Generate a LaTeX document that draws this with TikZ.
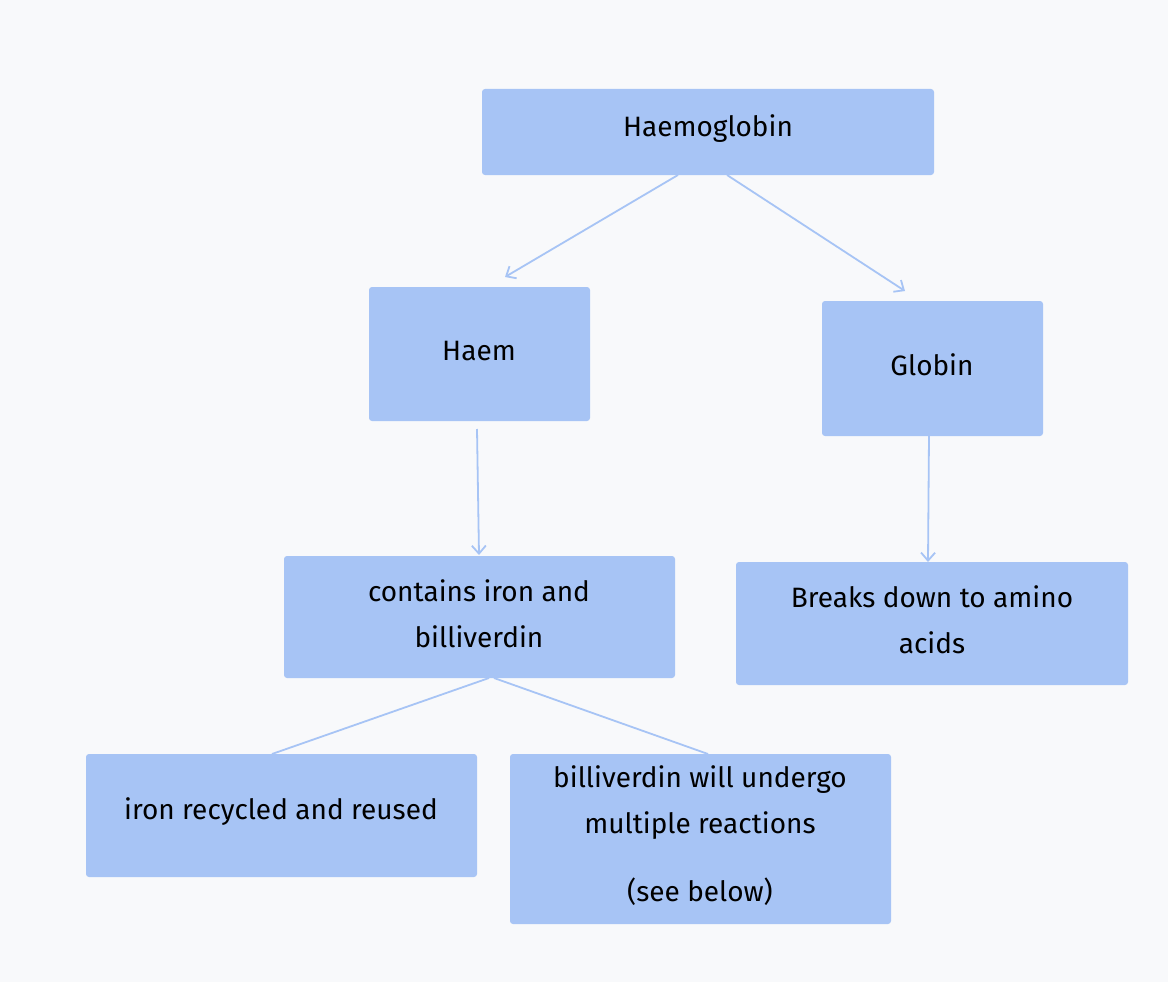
\documentclass[tikz,border=0pt]{standalone}
\usepackage{fontspec}
\setmainfont{Fira Sans}
\usetikzlibrary{arrows.meta}
\begin{document}
\begin{tikzpicture}[x=1pt,y=-1pt,
 txt/.style={align=center,font=\fontsize{28}{46}\selectfont},
 arr/.style={draw=linec,line width=1.8pt,-{Straight Barb[length=8pt,width=14pt]}},
 ln/.style={draw=linec,line width=1.8pt},
 bx/.style={fill=boxc,rounded corners=3pt}]
\definecolor{boxc}{HTML}{A7C4F5}
\definecolor{linec}{HTML}{A7C4F5}
\definecolor{bg}{HTML}{F8F9FB}
\fill[bg] (0,0) rectangle (1168,982);
\useasboundingbox (0,0) rectangle (1168,982);
\fill[bx] (482,89) rectangle (934,175);
\node[txt] (hb) at (708,129) {Haemoglobin};
\fill[bx] (369,287) rectangle (590,421);
\node[txt] (haem) at (479,351) {Haem};
\fill[bx] (822,301) rectangle (1043,436);
\node[txt] (glob) at (932,365) {Globin};
\fill[bx] (284,556) rectangle (675,678);
\node[txt] (cont) at (479,614) {contains iron and\\billiverdin};
\fill[bx] (736,562) rectangle (1128,685);
\node[txt] (brk) at (932,620) {Breaks down to amino\\acids};
\fill[bx] (86,754) rectangle (477,877);
\node[txt] (iron) at (281,812) {iron recycled and reused};
\fill[bx] (510,754) rectangle (891,924);
\node[txt] (bil) at (700,803) {billiverdin will undergo\\multiple reactions};
\node[txt] (see) at (700,892) {(see below)};
\coordinate (a1) at (678,175); \coordinate (b1) at (505,277);
\coordinate (a2) at (727,175); \coordinate (b2) at (905,291);
\coordinate (a3) at (477,429); \coordinate (b3) at (479,555);
\coordinate (a4) at (929,436); \coordinate (b4) at (928,562);
\coordinate (a5) at (489,678); \coordinate (b5) at (272,754);
\coordinate (a6) at (494,678); \coordinate (b6) at (708,754);
\draw[arr] (a1) -- (b1);
\draw[arr] (a2) -- (b2);
\draw[arr] (a3) -- (b3);
\draw[arr] (a4) -- (b4);
\draw[ln] (a5) -- (b5);
\draw[ln] (a6) -- (b6);
\end{tikzpicture}
\end{document}
